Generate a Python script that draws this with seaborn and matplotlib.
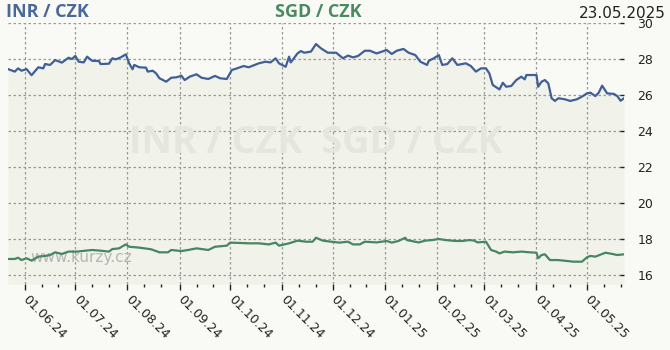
import matplotlib
matplotlib.use("Agg")
import matplotlib.pyplot as plt
import matplotlib.dates as mdates
import seaborn as sns
import pandas as pd

inr_dates = ["2024-05-22","2024-05-26","2024-05-28","2024-05-30","2024-06-02","2024-06-05","2024-06-09","2024-06-12",
             "2024-06-13","2024-06-16","2024-06-19","2024-06-23","2024-06-27","2024-06-29","2024-07-01","2024-07-03",
             "2024-07-06","2024-07-08","2024-07-11","2024-07-15","2024-07-16","2024-07-21","2024-07-23","2024-07-25",
             "2024-07-28","2024-07-31","2024-08-02","2024-08-04","2024-08-05","2024-08-08","2024-08-12","2024-08-13",
             "2024-08-16","2024-08-18","2024-08-20","2024-08-24","2024-08-27","2024-08-30","2024-09-02","2024-09-04",
             "2024-09-07","2024-09-11","2024-09-14","2024-09-18","2024-09-22","2024-09-25","2024-09-29","2024-10-02",
             "2024-10-05","2024-10-09","2024-10-12","2024-10-18","2024-10-22","2024-10-25","2024-10-28","2024-10-30",
             "2024-11-03","2024-11-05","2024-11-06","2024-11-10","2024-11-12","2024-11-14","2024-11-18","2024-11-21",
             "2024-11-24","2024-11-28","2024-12-03","2024-12-07","2024-12-10","2024-12-13","2024-12-16","2024-12-20",
             "2024-12-23","2024-12-27","2025-01-02","2025-01-05","2025-01-08","2025-01-12","2025-01-15","2025-01-19",
             "2025-01-22","2025-01-26","2025-01-27","2025-01-30","2025-02-02","2025-02-04","2025-02-07","2025-02-10",
             "2025-02-13","2025-02-18","2025-02-21","2025-02-24","2025-02-27","2025-03-02","2025-03-04","2025-03-06",
             "2025-03-10","2025-03-12","2025-03-14","2025-03-17","2025-03-20","2025-03-23","2025-03-25","2025-03-26",
             "2025-04-01","2025-04-02","2025-04-04","2025-04-06","2025-04-08","2025-04-10","2025-04-12","2025-04-14",
             "2025-04-18","2025-04-21","2025-04-25","2025-04-28","2025-05-01","2025-05-03","2025-05-06","2025-05-08",
             "2025-05-10","2025-05-13","2025-05-17","2025-05-19","2025-05-21","2025-05-23"]
inr_values = [27.44,27.30,27.48,27.35,27.44,27.10,27.54,27.48,
              27.72,27.67,27.94,27.80,28.07,28.00,28.17,27.85,
              27.81,28.13,27.90,27.89,27.72,27.74,28.04,27.98,
              28.09,28.26,27.76,27.43,27.67,27.54,27.52,27.30,
              27.35,27.20,26.93,26.74,26.96,26.98,27.07,26.83,
              27.02,27.15,26.96,26.89,27.06,26.93,26.89,27.39,
              27.48,27.61,27.54,27.76,27.85,27.81,28.04,27.76,
              27.57,28.13,27.81,28.31,28.44,28.35,28.41,28.83,
              28.59,28.35,28.35,28.04,28.19,28.09,28.17,28.46,
              28.46,28.31,28.50,28.28,28.46,28.56,28.35,28.22,
              27.85,27.67,27.90,28.04,28.22,27.67,27.72,28.04,
              27.67,27.76,27.61,27.30,27.48,27.48,27.20,26.56,
              26.31,26.68,26.46,26.50,26.83,27.02,26.87,27.11,
              27.11,26.46,26.74,26.83,26.65,25.82,25.67,25.82,
              25.76,25.67,25.76,25.91,26.09,26.13,25.94,26.13,
              26.52,26.09,26.06,25.94,25.68,25.82]

sgd_dates = ["2024-05-22","2024-05-26","2024-05-28","2024-05-30","2024-06-02","2024-06-05","2024-06-09","2024-06-13",
             "2024-06-16","2024-06-19","2024-06-23","2024-06-27","2024-07-02","2024-07-07","2024-07-11","2024-07-16",
             "2024-07-21","2024-07-23","2024-07-27","2024-07-31","2024-08-02","2024-08-08","2024-08-15","2024-08-20",
             "2024-08-25","2024-08-27","2024-09-02","2024-09-06","2024-09-11","2024-09-18","2024-09-22","2024-09-29",
             "2024-10-01","2024-10-12","2024-10-18","2024-10-24","2024-10-28","2024-10-30","2024-11-05","2024-11-10",
             "2024-11-15","2024-11-19","2024-11-21","2024-11-25","2024-11-30","2024-12-05","2024-12-10","2024-12-13",
             "2024-12-17","2024-12-20","2024-12-27","2025-01-02","2025-01-05","2025-01-09","2025-01-13","2025-01-14",
             "2025-01-21","2025-01-25","2025-01-29","2025-02-02","2025-02-06","2025-02-12","2025-02-16","2025-02-20",
             "2025-02-23","2025-02-25","2025-03-02","2025-03-05","2025-03-08","2025-03-10","2025-03-13","2025-03-18",
             "2025-03-23","2025-03-28","2025-04-01","2025-04-02","2025-04-04","2025-04-06","2025-04-09","2025-04-14",
             "2025-04-19","2025-04-23","2025-04-28","2025-05-01","2025-05-03","2025-05-06","2025-05-12","2025-05-16",
             "2025-05-19","2025-05-23"]
sgd_values = [16.89,16.89,16.96,16.83,16.93,16.80,17.02,17.06,
              17.11,17.26,17.17,17.30,17.30,17.35,17.39,17.35,
              17.30,17.44,17.48,17.70,17.57,17.52,17.43,17.26,
              17.26,17.39,17.33,17.39,17.48,17.39,17.57,17.63,
              17.80,17.76,17.76,17.70,17.80,17.63,17.76,17.91,
              17.85,17.85,18.07,17.91,17.85,17.80,17.85,17.70,
              17.70,17.85,17.81,17.89,17.80,17.89,18.07,17.94,
              17.81,17.91,17.94,18.00,17.94,17.89,17.89,17.94,
              17.91,17.81,17.85,17.39,17.30,17.20,17.30,17.26,
              17.30,17.26,17.24,16.93,17.11,17.15,16.83,16.83,
              16.78,16.74,16.74,16.98,17.06,17.02,17.24,17.17,
              17.11,17.15]

y_ticks = [16, 18, 20, 22, 24, 26, 28, 30]
title_left = "INR / CZK"
title_mid = "SGD / CZK"
date_label = "23.05.2025"
watermark = "INR / CZK  SGD / CZK"
site = "www.kurzy.cz"

BG = "#f9faf5"
FILL = "#f1f2e9"
BLUE = "#3f5f96"
GREEN = "#478662"

inr = pd.DataFrame({"date": pd.to_datetime(inr_dates), "value": inr_values})
sgd = pd.DataFrame({"date": pd.to_datetime(sgd_dates), "value": sgd_values})

fig = plt.figure(figsize=(6.7, 3.5), dpi=100, facecolor=BG)
ax = fig.add_axes([8/670, 66/350, 616/670, 261/350])
ax.set_facecolor(BG)

ax.fill_between(inr["date"], inr["value"], 15.5, color=FILL, lw=0, zorder=0)
sns.lineplot(data=inr, x="date", y="value", ax=ax, color=BLUE, lw=1.6, zorder=3)
sns.lineplot(data=sgd, x="date", y="value", ax=ax, color=GREEN, lw=1.6, zorder=3)

ax.set_xlim(pd.Timestamp("2024-05-22"), pd.Timestamp("2025-05-23"))
ax.set_ylim(15.5, 30)
ax.set_xlabel("")
ax.set_ylabel("")

for s in ax.spines.values():
    s.set_visible(False)

ax.yaxis.tick_right()
ax.set_yticks(y_ticks)
ax.set_yticklabels([str(v) for v in y_ticks])
ax.tick_params(axis="y", direction="in", length=3, width=1, pad=9.5, labelsize=9, colors="#222222")

ax.xaxis.set_major_locator(mdates.MonthLocator(bymonthday=1))
ax.xaxis.set_minor_locator(mdates.DayLocator(bymonthday=[11, 21]))
ax.xaxis.set_major_formatter(mdates.DateFormatter("%d.%m.%y"))
ax.tick_params(axis="x", which="major", direction="out", length=4, width=1, pad=6, labelsize=9, colors="#222222")
ax.tick_params(axis="x", which="minor", direction="out", length=2.5, width=1, colors="#222222")
for lab in ax.get_xticklabels():
    lab.set_rotation(-45)
    lab.set_ha("left")
    lab.set_va("center")
    lab.set_rotation_mode("anchor")

ax.grid(True, which="major", color="#999999", ls=(0, (2, 2)), lw=0.9)
ax.set_axisbelow(True)

ax.text(0.5, 0.54, watermark, transform=ax.transAxes, ha="center", va="center",
        fontsize=27, fontweight="bold", family="Open Sans", color="#e5e6de", zorder=1)
ax.text(22/616, (284-262)/261, site, transform=ax.transAxes, ha="left", va="baseline",
        fontsize=11, color="#b5b5b5", zorder=2)

fig.text(6/670, 1 - 17/350, title_left, ha="left", va="baseline", fontsize=13,
         fontweight="bold", family="Open Sans", color="#4a6899")
fig.text(318/670, 1 - 17/350, title_mid, ha="center", va="baseline", fontsize=13,
         fontweight="bold", family="Open Sans", color="#4a8a62")
fig.text(666/670, 1 - 18/350, date_label, ha="right", va="baseline", fontsize=11, color="#222222")

fig.savefig("out.png", dpi=100, facecolor=BG)
